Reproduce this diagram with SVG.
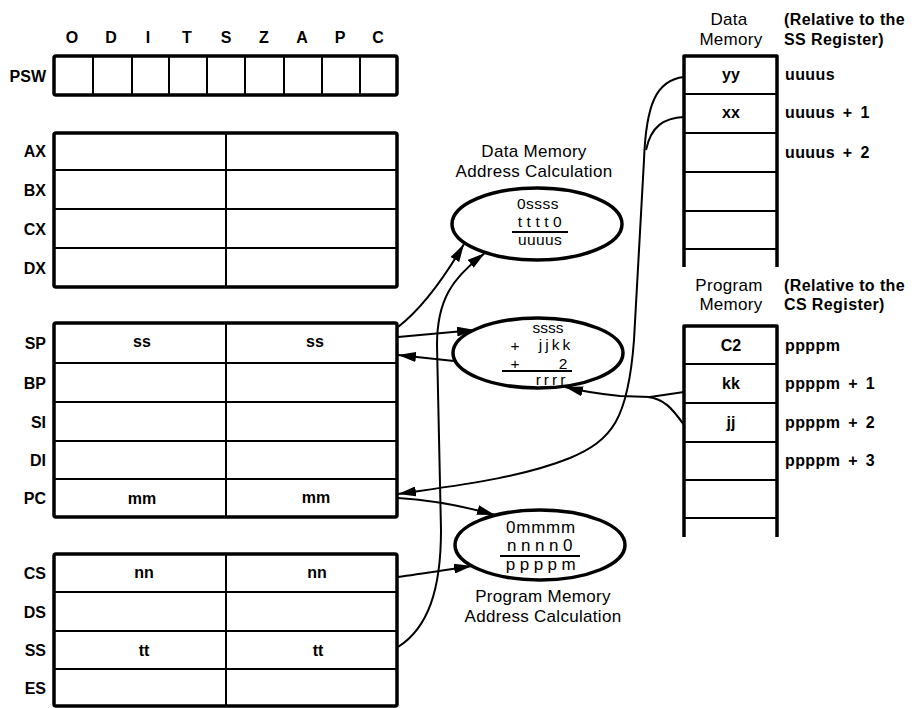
<svg xmlns="http://www.w3.org/2000/svg" width="922" height="708" viewBox="0 0 922 708">
<style>
.bg{fill:#fff}
.outer{fill:none;stroke:#000;stroke-width:3.5;stroke-linejoin:round}
.inner{fill:none;stroke:#000;stroke-width:2}
.ell{fill:#fff;stroke:#000;stroke-width:3.5}
.con{fill:none;stroke:#000;stroke-width:2}
.lbl{font-family:"Liberation Sans",Arial,sans-serif;font-size:16px;font-weight:bold;fill:#000}
.cell{font-family:"Liberation Sans",Arial,sans-serif;font-size:16px;font-weight:bold;fill:#000;text-anchor:middle}
.addr{font-family:"Liberation Sans",Arial,sans-serif;font-size:16px;font-weight:bold;fill:#000;letter-spacing:0.4px}
.ws{word-spacing:3px}
.ttl{font-family:"Liberation Sans",Arial,sans-serif;font-size:17px;fill:#000;text-anchor:middle;letter-spacing:0.3px}
.calc{font-family:"Liberation Sans",Arial,sans-serif;font-size:17px;fill:#000;text-anchor:middle}
.calc2{font-family:"Liberation Sans",Arial,sans-serif;font-size:15.5px;fill:#000;text-anchor:middle}
.r{text-anchor:end}
.m{text-anchor:middle}
</style>
<defs>
<marker id="arr" viewBox="0 0 18 10" refX="18" refY="5" markerWidth="18" markerHeight="10" markerUnits="userSpaceOnUse" orient="auto">
<path d="M0,0 L18,5 L0,10 z" fill="#000"/>
</marker>
</defs>
<rect class="bg" x="0" y="0" width="922" height="708"/>

<g id="psw">
<text class="lbl m" x="72" y="43">O</text>
<text class="lbl m" x="111" y="43">D</text>
<text class="lbl m" x="148" y="43">I</text>
<text class="lbl m" x="187" y="43">T</text>
<text class="lbl m" x="226" y="43">S</text>
<text class="lbl m" x="264" y="43">Z</text>
<text class="lbl m" x="302" y="43">A</text>
<text class="lbl m" x="340" y="43">P</text>
<text class="lbl m" x="378" y="43">C</text>
<text class="lbl r" x="46" y="82">PSW</text>
<rect class="outer" x="54" y="56" width="343" height="39" rx="2"/>
<path class="inner" d="M93,56V95M132,56V95M169,56V95M207,56V95M245,56V95M284,56V95M322,56V95M360,56V95"/>
</g>

<g id="general-registers">
<rect class="outer" x="54" y="133" width="343" height="154" rx="2"/>
<path class="inner" d="M226,133V287M54,170H397M54,209H397M54,248H397"/>
<text class="lbl r" x="46" y="157">AX</text>
<text class="lbl r" x="46" y="196">BX</text>
<text class="lbl r" x="46" y="235">CX</text>
<text class="lbl r" x="46" y="274">DX</text>
</g>

<g id="pointer-registers">
<rect class="outer" x="54" y="323" width="343" height="194" rx="2"/>
<path class="inner" d="M226,323V517M54,363H397M54,402H397M54,441H397M54,479H397"/>
<text class="lbl r" x="46" y="349">SP</text>
<text class="lbl r" x="46" y="389">BP</text>
<text class="lbl r" x="46" y="428">SI</text>
<text class="lbl r" x="46" y="466">DI</text>
<text class="lbl r" x="46" y="504">PC</text>
<text class="cell" x="142" y="347">ss</text>
<text class="cell" x="315" y="347">ss</text>
<text class="cell" x="142" y="504">mm</text>
<text class="cell" x="316" y="503">mm</text>
</g>

<g id="segment-registers">
<rect class="outer" x="54" y="554" width="343" height="152" rx="2"/>
<path class="inner" d="M226,554V706M54,592H397M54,631H397M54,669H397"/>
<text class="lbl r" x="46" y="579">CS</text>
<text class="lbl r" x="46" y="618">DS</text>
<text class="lbl r" x="46" y="656">SS</text>
<text class="lbl r" x="46" y="694">ES</text>
<text class="cell" x="144" y="578">nn</text>
<text class="cell" x="317" y="578">nn</text>
<text class="cell" x="144" y="656">tt</text>
<text class="cell" x="318" y="656">tt</text>
</g>

<g id="data-memory">
<text class="ttl" x="729" y="25">Data</text>
<text class="ttl" x="731" y="45" letter-spacing="1">Memory</text>
<text class="addr" x="784" y="25">(Relative to the</text>
<text class="addr" x="784" y="45">SS Register)</text>
<path class="outer" d="M684,267V56H777V267"/>
<path class="inner" d="M684,94H777M684,133H777M684,172H777M684,211H777M684,249H777"/>
<text class="cell" x="731" y="80">yy</text>
<text class="cell" x="731" y="118">xx</text>
<text class="addr" x="785" y="80">uuuus</text>
<text class="addr ws" x="785" y="118">uuuus + 1</text>
<text class="addr ws" x="785" y="158">uuuus + 2</text>
</g>

<g id="program-memory">
<text class="ttl" x="729" y="291">Program</text>
<text class="ttl" x="731" y="310" letter-spacing="1">Memory</text>
<text class="addr" x="784" y="291">(Relative to the</text>
<text class="addr" x="784" y="310">CS Register)</text>
<path class="outer" d="M684,537V326H777V537"/>
<path class="inner" d="M684,364H777M684,403H777M684,442H777M684,480H777M684,518H777"/>
<text class="cell" x="731" y="351">C2</text>
<text class="cell" x="731" y="389">kk</text>
<text class="cell" x="731" y="428">jj</text>
<text class="addr" x="785" y="351">ppppm</text>
<text class="addr ws" x="785" y="389">ppppm + 1</text>
<text class="addr ws" x="785" y="428">ppppm + 2</text>
<text class="addr ws" x="785" y="466">ppppm + 3</text>
</g>

<g id="data-address-calc">
<text class="ttl" x="534" y="157">Data Memory</text>
<text class="ttl" x="534" y="177">Address Calculation</text>
<ellipse class="ell" cx="537" cy="224" rx="85" ry="36"/>
<text class="calc2" x="538" y="209" letter-spacing="0.5">0ssss</text>
<text class="calc2" x="542" y="227" letter-spacing="4.5">tttt0</text>
<path class="inner" d="M512,232H568"/>
<text class="calc2" x="540" y="245" letter-spacing="0.4">uuuus</text>
</g>

<g id="stack-address-calc">
<ellipse class="ell" cx="538" cy="353" rx="85" ry="35"/>
<text class="calc2" x="548" y="333">ssss</text>
<text class="calc2" x="515" y="351">+</text>
<text class="calc2" x="556" y="350" letter-spacing="3">jjkk</text>
<text class="calc2" x="515" y="369">+</text>
<text class="calc2" x="563" y="369">2</text>
<path class="inner" d="M502,371H572"/>
<text class="calc2" x="552" y="385" letter-spacing="3">rrrr</text>
</g>

<g id="program-address-calc">
<ellipse class="ell" cx="540" cy="545" rx="85" ry="35"/>
<text class="calc" x="541" y="533" letter-spacing="0.8">0mmmm</text>
<text class="calc" x="542" y="551" letter-spacing="4.5">nnnn0</text>
<path class="inner" d="M500,556H580"/>
<text class="calc" x="543" y="570" letter-spacing="4.5">ppppm</text>
<text class="ttl" x="543" y="602">Program Memory</text>
<text class="ttl" x="543" y="622">Address Calculation</text>
</g>

<g id="connectors">
<path class="con" d="M398,327 C420,310 440,285 464,244" marker-end="url(#arr)"/>
<path class="con" d="M398,647 C428,628 441,590 441,530 L437,345 C437,300 452,278 485,253" marker-end="url(#arr)"/>
<path class="con" d="M398,337 L475,330" marker-end="url(#arr)"/>
<path class="con" d="M454,361 L398,355" marker-end="url(#arr)"/>
<path class="con" d="M684,392 L650,397 L620,396 C600,394 585,392 565,387" marker-end="url(#arr)"/>
<path class="con" d="M684,425 C672,408 664,399 648,397"/>
<path class="con" d="M684,77 C656,80 646,105 644,160 L634,340 C628,420 612,440 570,458 C520,478 460,485 398,494" marker-end="url(#arr)"/>
<path class="con" d="M684,117 C664,118 651,126 646,150"/>
<path class="con" d="M398,498 C430,500 460,505 495,515" marker-end="url(#arr)"/>
<path class="con" d="M398,577 C420,574 445,570 472,566" marker-end="url(#arr)"/>
</g>
</svg>
